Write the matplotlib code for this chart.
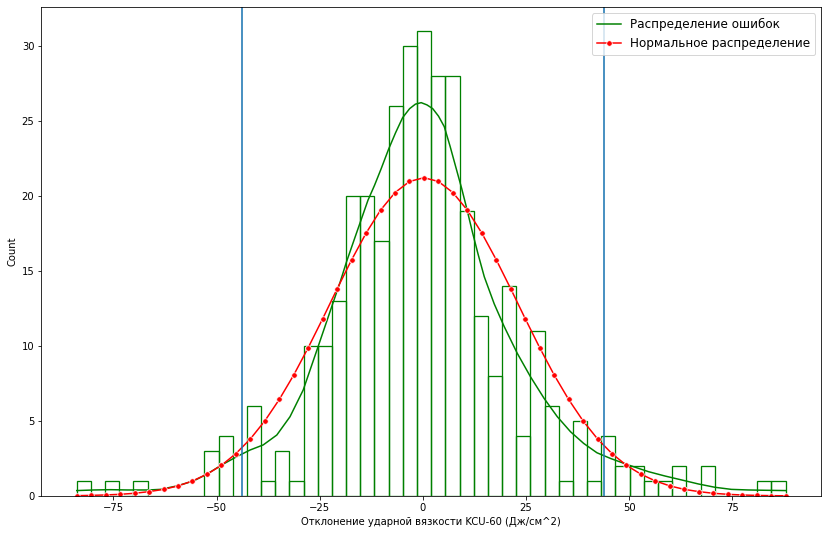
import numpy as np
import matplotlib
matplotlib.use("Agg")
import matplotlib.pyplot as plt

# гистограмма ошибок: 50 интервалов
x_min, x_max = -83.9, 87.95
counts = [1, 0, 1, 0, 1, 0, 0, 0, 0, 3,
          4, 0, 6, 1, 3, 1, 10, 10, 13, 20,
          20, 17, 26, 30, 31, 28, 28, 19, 12, 8,
          14, 4, 11, 6, 1, 5, 1, 4, 2, 2,
          1, 1, 2, 0, 2, 0, 0, 0, 1, 1]

# оценка плотности (KDE)
kde_x = [-83.9, -79.7, -75.7, -71.6, -66.6, -63.6, -59.6, -55.6, -52.3, -48.8,
         -45.1, -41.9, -38.7, -35.4, -32.2, -29.0, -25.4, -22.1, -20.1, -18.5,
         -16.1, -13.3, -11.7, -10.1, -8.3, -6.6, -4.9, -3.2, -1.8, -0.4,
         1.0, 2.4, 3.8, 5.2, 6.6, 8.0, 9.4, 10.6, 12.0, 13.4,
         14.9, 17.3, 19.7, 22.9, 26.1, 29.4, 32.6, 35.8, 39.0, 42.2,
         45.5, 50.0, 54.7, 58.7, 62.7, 66.8, 70.8, 74.8, 78.9, 82.9,
         88.0]
kde_y = [0.36, 0.40, 0.42, 0.40, 0.40, 0.44, 0.67, 1.0, 1.46, 2.06,
         2.62, 3.06, 3.40, 4.06, 5.28, 7.06, 9.94, 12.6, 14.2, 15.6,
         17.5, 19.7, 20.7, 21.8, 23.1, 24.2, 25.2, 25.8, 26.1, 26.2,
         26.05, 25.8, 25.3, 24.6, 23.3, 21.9, 20.5, 19.2, 17.6, 16.1,
         14.6, 12.8, 11.3, 9.5, 7.94, 6.5, 5.28, 4.28, 3.5, 2.88,
         2.50, 2.05, 1.62, 1.33, 1.07, 0.80, 0.58, 0.44, 0.40, 0.38,
         0.36]

# нормальное распределение (50 точек)
norm_y = [0.02, 0.04, 0.07, 0.11, 0.18, 0.29, 0.44, 0.67, 1.00, 1.45,
          2.04, 2.82, 3.80, 5.00, 6.43, 8.06, 9.88, 11.81, 13.80, 15.73,
          17.51, 19.04, 20.21, 20.95, 21.20, 20.95, 20.21, 19.04, 17.51, 15.73,
          13.80, 11.81, 9.88, 8.06, 6.43, 5.00, 3.80, 2.82, 2.04, 1.45,
          1.00, 0.67, 0.44, 0.29, 0.18, 0.11, 0.066, 0.038, 0.022, 0.012]

bounds = [-43.9, 43.8]

edges = np.linspace(x_min, x_max, len(counts) + 1)
norm_x = np.linspace(x_min, x_max, len(norm_y))

fig = plt.figure(figsize=(829 / 72, 534 / 72), dpi=72)
ax = fig.add_axes([0.0498, 0.0712, 0.9409, 0.9151])

ax.bar(edges[:-1], counts, width=np.diff(edges), align='edge',
       fill=False, edgecolor='green', linewidth=1.3)
ax.plot(kde_x, kde_y, color='green', linewidth=1.5, label='Распределение ошибок')
ax.plot(norm_x, norm_y, color='red', linewidth=1.5, marker='o', markersize=5.5,
        markeredgecolor='white', markeredgewidth=0.75, label='Нормальное распределение')
for b in bounds:
    ax.axvline(b, color='#1f77b4', linewidth=1.6)

ax.set_xlabel('Отклонение ударной вязкости KCU-60 (Дж/см^2)')
ax.set_ylabel('Count')
ax.legend(loc='upper right', fontsize=12)

fig.savefig('out.png', dpi=72)
